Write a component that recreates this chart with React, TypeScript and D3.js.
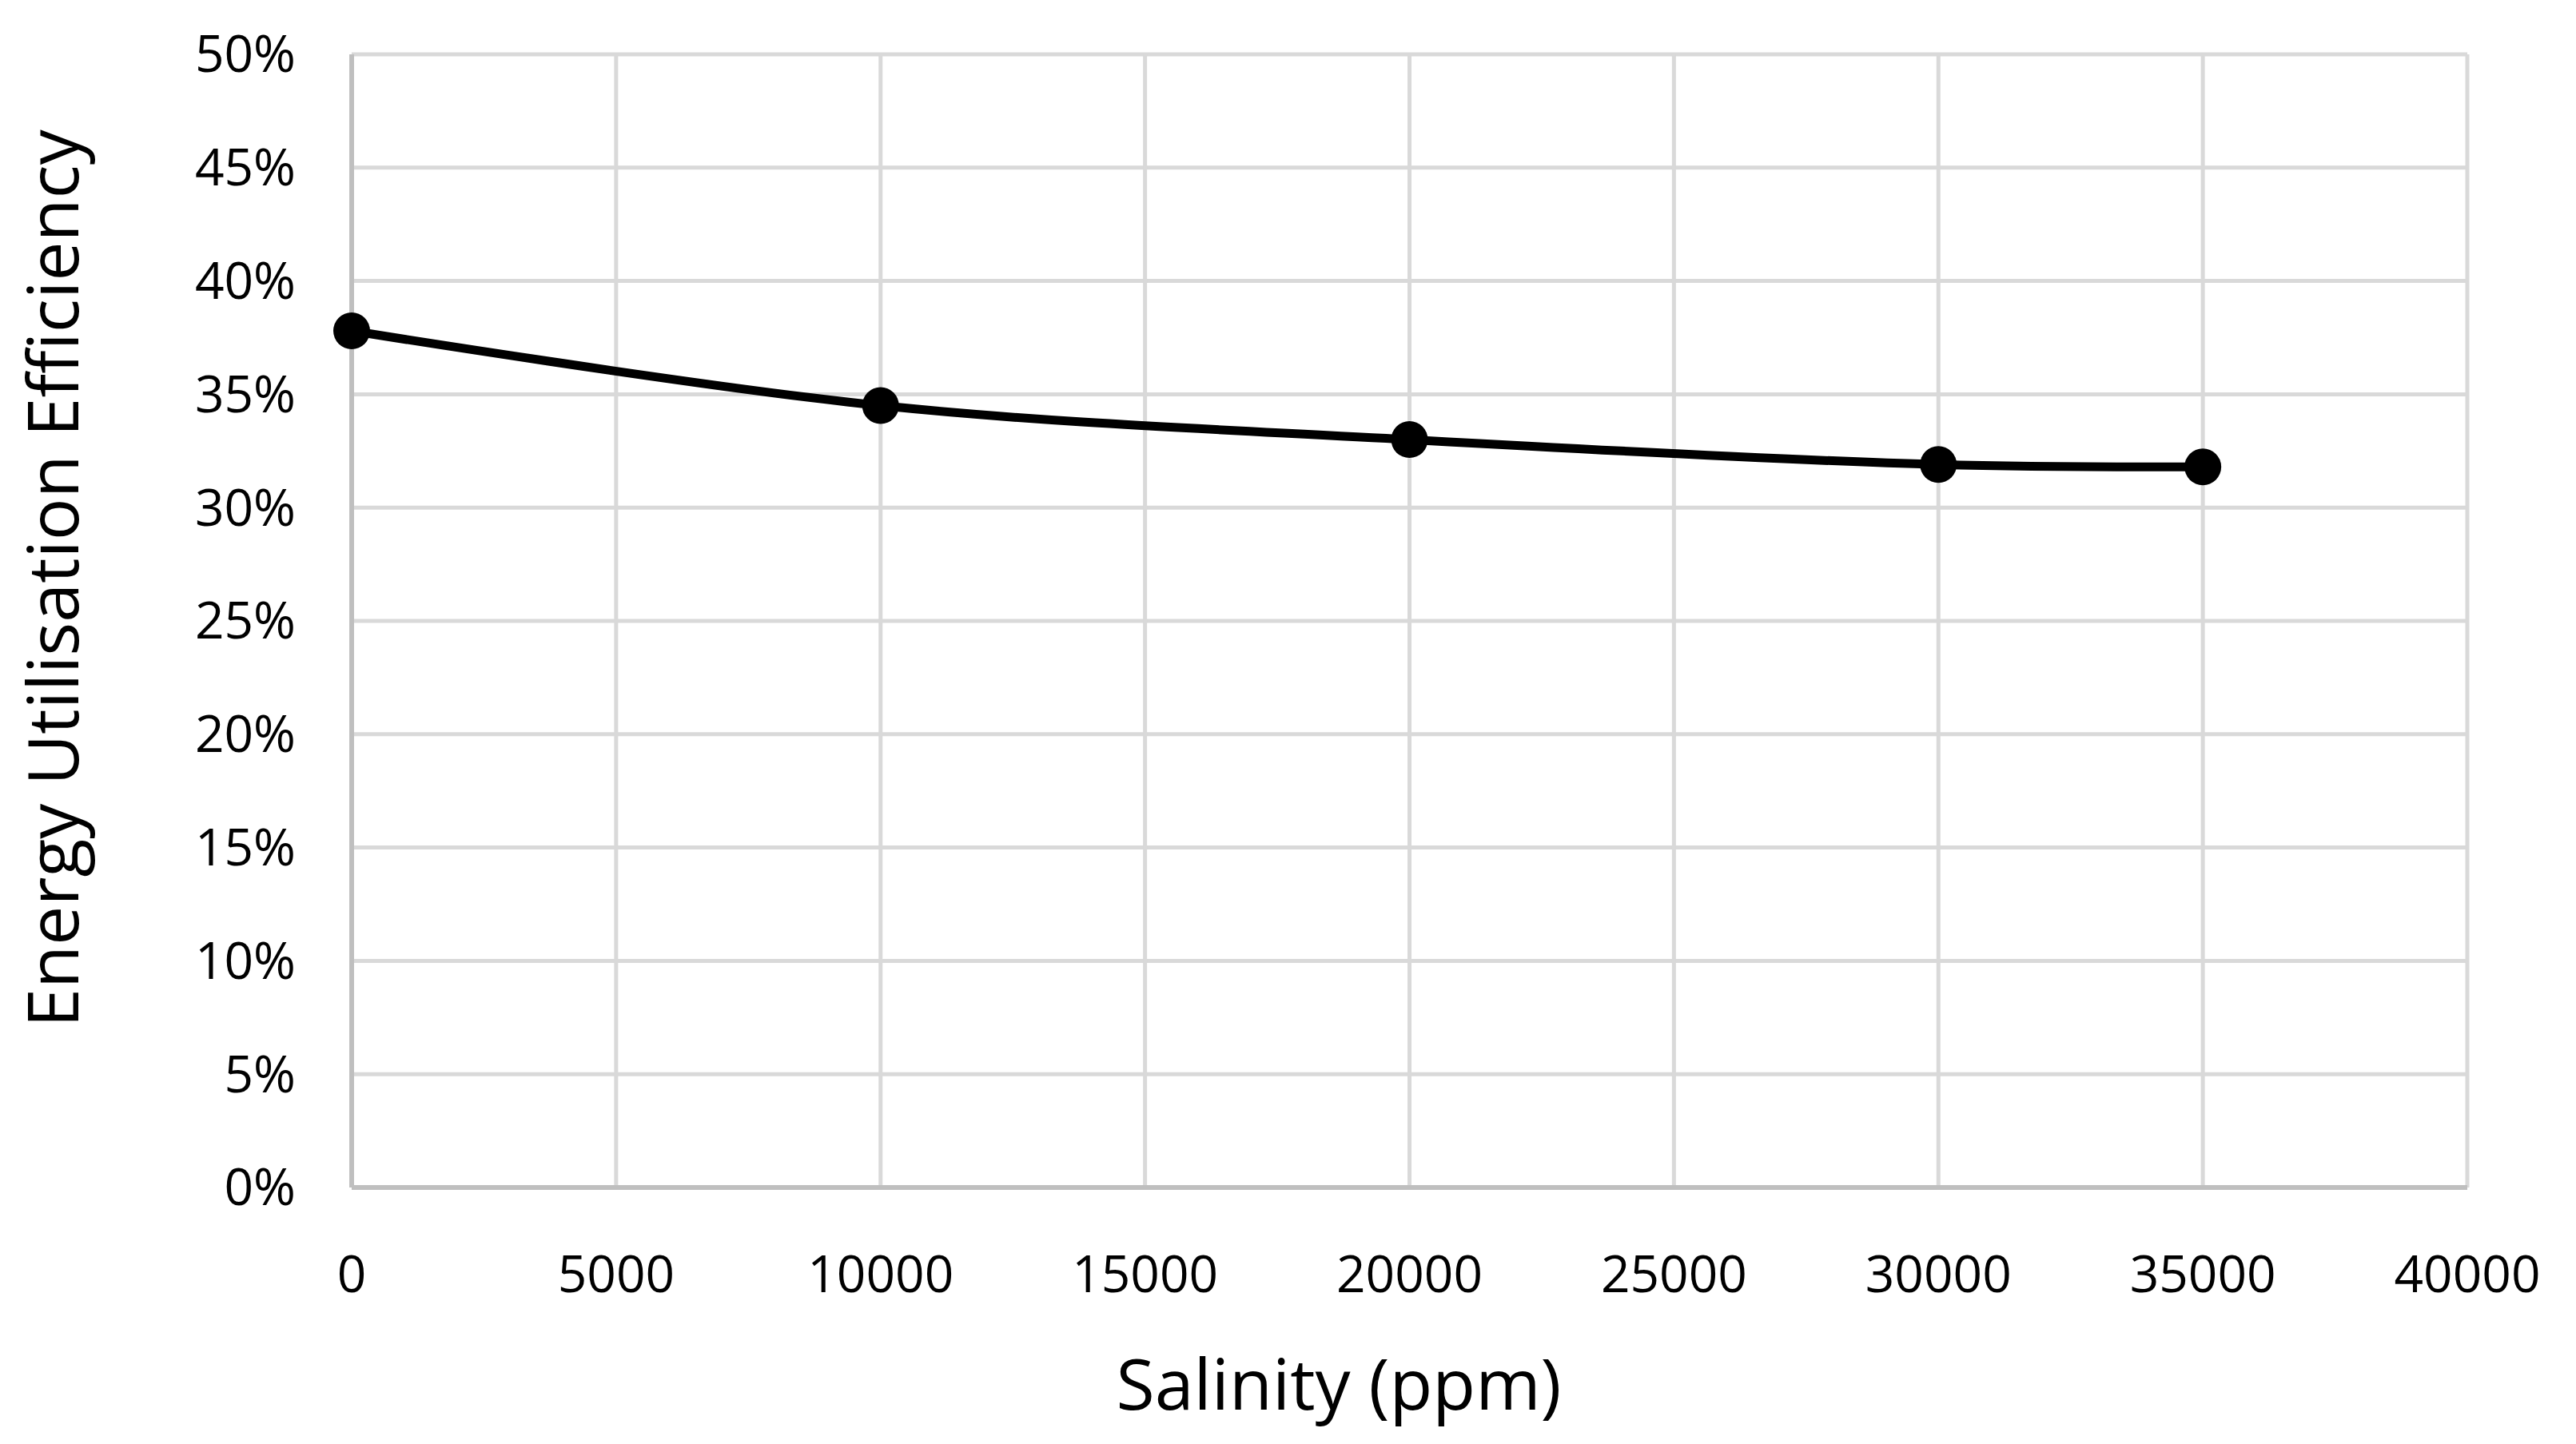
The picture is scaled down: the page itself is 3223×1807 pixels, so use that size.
import { useEffect } from 'react'
import * as d3 from 'd3'

// salinity (ppm) vs energy utilisation efficiency
const salinity = [0, 10000, 20000, 30000, 35000]
const efficiency = [0.378, 0.345, 0.330, 0.319, 0.318]
const xTicks = [0, 5000, 10000, 15000, 20000, 25000, 30000, 35000, 40000]
const yTicks = [0, 0.05, 0.1, 0.15, 0.2, 0.25, 0.3, 0.35, 0.4, 0.45, 0.5]

const W = 3223
const H = 1807
const margin = { top: 68, right: 136, bottom: 321, left: 440 }
const font = "'Open Sans', 'Noto Sans', sans-serif"

export default function App() {
  useEffect(() => {
    document.body.style.margin = '0'
  }, [])

  const x = d3.scaleLinear().domain([0, 40000]).range([margin.left, W - margin.right])
  const y = d3.scaleLinear().domain([0, 0.5]).range([H - margin.bottom, margin.top])

  const points = salinity.map((s, i) => [s, efficiency[i]] as [number, number])
  const line = d3.line<[number, number]>()
    .x(d => x(d[0]))
    .y(d => y(d[1]))
    .curve(d3.curveCatmullRom.alpha(0.5))

  const bottom = y(0)
  const left = x(0)

  return (
    <svg width={W} height={H} style={{ display: 'block', background: '#fff' }}>
      {/* grid */}
      {yTicks.filter(t => t > 0).map(t => (
        <line key={'gy' + t} x1={left} x2={x(40000)} y1={y(t)} y2={y(t)} stroke="#d9d9d9" strokeWidth={5} />
      ))}
      {xTicks.filter(t => t > 0).map(t => (
        <line key={'gx' + t} x1={x(t)} x2={x(t)} y1={y(0.5)} y2={bottom} stroke="#d9d9d9" strokeWidth={5} />
      ))}
      {/* axes */}
      <line x1={left} x2={x(40000)} y1={bottom} y2={bottom} stroke="#bfbfbf" strokeWidth={6} />
      <line x1={left} x2={left} y1={y(0.5)} y2={bottom} stroke="#bfbfbf" strokeWidth={6} />

      {/* tick labels */}
      {yTicks.map(t => (
        <text key={'ly' + t} x={370} y={y(t)} dy="0.35em" textAnchor="end"
          fontFamily={font} fontSize={64} fill="#000">{d3.format('.0%')(t)}</text>
      ))}
      {xTicks.map(t => (
        <text key={'lx' + t} x={x(t)} y={1595} dy="0.35em" textAnchor="middle"
          fontFamily={font} fontSize={64} fill="#000">{t}</text>
      ))}

      {/* axis titles */}
      <text x={1675} y={1764} textAnchor="middle" fontFamily={font} fontSize={88} fill="#000">Salinity (ppm)</text>
      <text transform="translate(98,724) rotate(-90)" textAnchor="middle"
        fontFamily={font} fontSize={88} fill="#000">Energy Utilisation Efficiency</text>

      {/* series */}
      <path d={line(points) ?? ''} fill="none" stroke="#000" strokeWidth={11} />
      {points.map(p => (
        <circle key={p[0]} cx={x(p[0])} cy={y(p[1])} r={23} fill="#000" />
      ))}
    </svg>
  )
}
